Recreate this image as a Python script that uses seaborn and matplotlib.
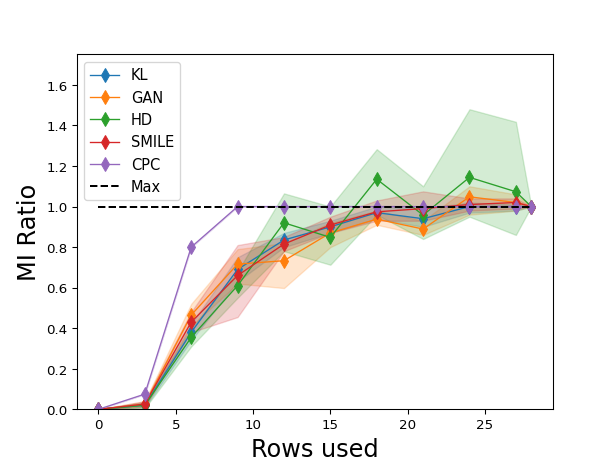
import numpy as np
import pandas as pd
import matplotlib
matplotlib.use("Agg")
import matplotlib.pyplot as plt
import seaborn as sns

rows = [0, 3, 6, 9, 12, 15, 18, 21, 24, 27, 28]
methods = ["KL", "GAN", "HD", "SMILE", "CPC"]
colors = ["#1f77b4", "#ff7f0e", "#2ca02c", "#d62728", "#9467bd"]

# mean MI ratio per method
kl_mean = [0, 0.02, 0.38, 0.69, 0.835, 0.90, 0.97, 0.94, 1.00, 1.00, 1.00]
gan_mean = [0, 0.025, 0.465, 0.716, 0.733, 0.87, 0.938, 0.889, 1.048, 1.02, 1.00]
hd_mean = [0, 0.02, 0.355, 0.61, 0.92, 0.848, 1.135, 0.958, 1.144, 1.073, 1.00]
smile_mean = [0, 0.026, 0.43, 0.66, 0.815, 0.909, 0.974, 0.99, 1.01, 1.02, 1.00]
cpc_mean = [0, 0.075, 0.80, 1.00, 1.00, 1.00, 1.00, 1.00, 1.00, 1.00, 1.00]

# band limits
kl_lo = [0, 0.01, 0.34, 0.63, 0.80, 0.87, 0.94, 0.90, 0.97, 0.98, 1.00]
kl_hi = [0, 0.03, 0.42, 0.75, 0.87, 0.93, 1.00, 0.99, 1.02, 1.01, 1.00]
gan_lo = [0, 0.01, 0.41, 0.62, 0.598, 0.80, 0.91, 0.86, 0.96, 0.98, 1.00]
gan_hi = [0, 0.04, 0.52, 0.79, 0.82, 0.92, 0.98, 0.93, 1.10, 1.06, 1.00]
hd_lo = [0, 0.005, 0.31, 0.55, 0.78, 0.713, 0.96, 0.84, 0.95, 0.86, 1.00]
hd_hi = [0, 0.035, 0.40, 0.68, 1.065, 1.00, 1.283, 1.10, 1.48, 1.418, 1.00]
smile_lo = [0, 0.015, 0.38, 0.455, 0.78, 0.87, 0.93, 0.93, 0.98, 0.99, 1.00]
smile_hi = [0, 0.04, 0.48, 0.81, 0.85, 0.95, 1.03, 1.075, 1.04, 1.04, 1.00]
cpc_lo = cpc_mean
cpc_hi = cpc_mean

means = [kl_mean, gan_mean, hd_mean, smile_mean, cpc_mean]
lows = [kl_lo, gan_lo, hd_lo, smile_lo, cpc_lo]
highs = [kl_hi, gan_hi, hd_hi, smile_hi, cpc_hi]

max_y = [1.0, 1.0]
max_x = [rows[0], rows[-1]]

fig, ax = plt.subplots(figsize=(6.4, 4.8), dpi=96)

for name, c, m, lo, hi in zip(methods, colors, means, lows, highs):
    df = pd.DataFrame({"rows": rows, "ratio": m})
    sns.lineplot(data=df, x="rows", y="ratio", ax=ax, color=c, label=name,
                 marker="d", markersize=7.5, markeredgecolor=c, linewidth=1.0)
    ax.fill_between(rows, lo, hi, color=c, alpha=0.2)

ax.plot(max_x, max_y, "k--", linewidth=1.5, label="Max")

ax.set_ylim(0, 1.75)
ax.set_xlabel("Rows used", fontsize=18)
ax.set_ylabel("MI Ratio", fontsize=18)
ax.legend(loc="upper left", fontsize=11)

plt.savefig("out.png", dpi=96)
